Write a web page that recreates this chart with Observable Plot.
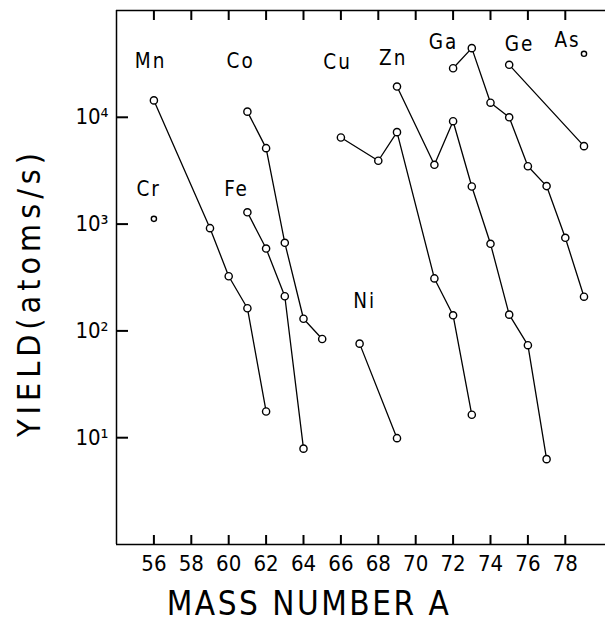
<!DOCTYPE html>
<html>
<head>
<meta charset="utf-8">
<script src="https://cdn.jsdelivr.net/npm/d3@7"></script>
<script src="https://cdn.jsdelivr.net/npm/@observablehq/plot@0.6"></script>
<style>
  html, body { margin: 0; padding: 0; background: #fff; }
  #chart { width: 605px; height: 622px; }
</style>
</head>
<body>
<div id="chart"></div>
<script>
// Tick values and labels
const xTicks = [56, 58, 60, 62, 64, 66, 68, 70, 72, 74, 76, 78];
const yTicks = [10, 100, 1000, 10000];
const yTickLabels = ["10\u00B9", "10\u00B2", "10\u00B3", "10\u2074"];

// Series: [mass number, yield (atoms/s)]
const Cr = [[56, 1120]];
const Mn = [[56, 14400], [59, 916], [60, 325], [61, 163], [62, 17.6]];
const Fe = [[61, 1290], [62, 590], [63, 211], [64, 7.9]];
const Co = [[61, 11300], [62, 5140], [63, 668], [64, 130], [65, 84]];
const Ni = [[67, 76], [69, 9.9]];
const Cu = [[66, 6470], [68, 3920], [69, 7260], [71, 310], [72, 140], [73, 16.4]];
const Zn = [[69, 19400], [71, 3590], [72, 9190], [73, 2250], [74, 654], [75, 142], [76, 73.5], [77, 6.3]];
const Ga = [[72, 28800], [73, 44400], [74, 13700], [75, 10000], [76, 3480], [77, 2270], [78, 744], [79, 209]];
const Ge = [[75, 31000], [79, 5370]];
const As = [[79, 39300]];

// Element labels
const labelNames = ["Mn", "Co", "Cu", "Zn", "Ga", "Ge", "As", "Cr", "Fe", "Ni"];
const labelMass  = [55.82, 60.64, 65.82, 68.8, 71.49, 75.55, 78.12, 55.72, 60.42, 67.27];
const labelYield = [33300, 33300, 32600, 35500, 50200, 48100, 52300, 2110, 2110, 188];

const xTitle = "MASS NUMBER A";
const yTitle = "YIELD(atoms/s)";

const seriesList = [
  {el: "Cr", pts: Cr, small: true},
  {el: "Mn", pts: Mn}, {el: "Fe", pts: Fe}, {el: "Co", pts: Co},
  {el: "Ni", pts: Ni}, {el: "Cu", pts: Cu}, {el: "Zn", pts: Zn},
  {el: "Ga", pts: Ga}, {el: "Ge", pts: Ge},
  {el: "As", pts: As, small: true}
];
const rows = seriesList.flatMap(s => s.pts.map(([mass, yld]) => ({el: s.el, mass, yld, small: !!s.small})));
const labels = labelNames.map((name, i) => ({name, mass: labelMass[i], yld: labelYield[i]}));

const font = "'DejaVu Sans Condensed', 'DejaVu Sans', sans-serif";

const W = 605, H = 622, mL = 116, mR = 0, mT = 10, mB = 78;
const frameW = W - mL - mR, frameH = H - mT - mB;

const chart = Plot.plot({
  width: W,
  height: H,
  marginLeft: mL,
  marginRight: mR,
  marginTop: mT,
  marginBottom: mB,
  style: {fontFamily: font, fontStretch: "condensed", color: "black", background: "white"},
  x: {domain: [54, 80.15]},
  y: {type: "log", domain: [1, 1e5]},
  marks: [
    // frame lines
    Plot.ruleX([54], {stroke: "black", strokeWidth: 1.5}),
    Plot.ruleY([1, 1e5], {stroke: "black", strokeWidth: 1.5}),
    // inward ticks
    Plot.ruleX(xTicks, {insetTop: frameH - 9, stroke: "black", strokeWidth: 2}),
    Plot.ruleX(xTicks, {insetBottom: frameH - 10, stroke: "black", strokeWidth: 2}),
    Plot.ruleY(yTicks, {insetRight: frameW - 12, stroke: "black", strokeWidth: 2}),
    // tick labels
    Plot.axisX(xTicks, {anchor: "bottom", tickSize: 0, tickPadding: 11, fontSize: 22, label: null, fill: "black"}),
    Plot.axisY(yTicks, {anchor: "left", tickSize: 0, tickPadding: 8, fontSize: 22, label: null, fill: "black",
      tickFormat: d => yTickLabels[yTicks.indexOf(d)]}),
    // data
    Plot.line(rows, {x: "mass", y: "yld", z: "el", stroke: "black", strokeWidth: 1.3}),
    Plot.dot(rows.filter(d => !d.small), {x: "mass", y: "yld", r: 3.6, stroke: "black", fill: "white", strokeWidth: 1.4}),
    Plot.dot(rows.filter(d => d.small), {x: "mass", y: "yld", r: 2.6, stroke: "black", fill: "white", strokeWidth: 1.4}),
    // element labels
    Plot.text(labels, {x: "mass", y: "yld", text: "name", fontSize: 20.5, fill: "black"}),
    // titles
    Plot.text([xTitle], {frameAnchor: "bottom", textAnchor: "middle", lineAnchor: "middle", dx: -52, dy: 60, fontSize: 33, fill: "black"}),
    Plot.text([yTitle], {frameAnchor: "left", textAnchor: "middle", lineAnchor: "middle", dx: -87, dy: 15, rotate: -90, fontSize: 32, fill: "black"})
  ]
});

document.getElementById("chart").appendChild(chart);
// letter spacing (style only)
chart.querySelectorAll("text").forEach(t => {
  const s = t.textContent;
  if (s === yTitle) t.setAttribute("letter-spacing", "5");
  else if (s === xTitle) t.setAttribute("letter-spacing", "2.5");
  else if (labelNames.includes(s)) t.setAttribute("letter-spacing", "2");
});
</script>
</body>
</html>
